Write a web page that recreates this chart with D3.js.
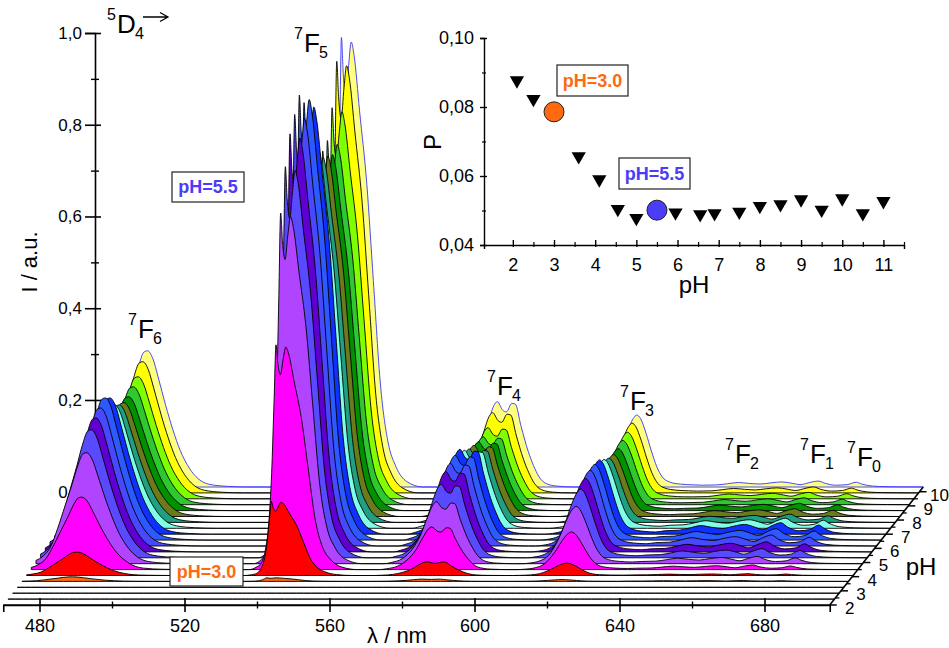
<!DOCTYPE html>
<html>
<head>
<meta charset="utf-8">
<script src="https://cdn.jsdelivr.net/npm/d3@7"></script>
<style>
  body { margin: 0; background: #fff; }
  text { font-family: "Liberation Sans", Arial, sans-serif; fill: #000; }
</style>
</head>
<body>
<svg id="chart" width="949" height="648"></svg>
<script>
// ---- data ----
// one spectrum per row, front row first
var rowColors = ['#ffffff', '#ffffff', '#ffffff', '#ffffff', '#ff6a10', '#ff0000', '#ff00ff',
    '#b044ff', '#5a4aff', '#6000d0', '#4848ff', '#2d5aff', '#1030ff', '#80ffe8', '#20a080',
    '#6b7b1b', '#009000', '#30c830', '#80ff00', '#ffff00', '#ffff80'];

// band shapes (wavelength, band index, intensity relative to the band maximum)
var shapeWl = [470, 472, 474, 476, 478, 480, 481.5, 483, 484, 485.5, 487, 489, 491, 493, 495.5, 498, 501, 506, 512,
    530, 532, 533.5, 534.5, 535.5, 536.3, 537, 537.5, 538, 538.7, 539.5, 540.2, 541, 542.5, 544.5, 546.3, 548.3, 550.3, 552.5, 555.5, 560,
    566, 568, 571, 574, 576, 578, 579.5, 580.5, 582, 583, 584.5, 585.5, 587, 589, 590.5, 592, 594, 597, 602,
    604, 606, 609, 611.5, 613.5, 615, 616.5, 618, 619, 620, 621.5, 623, 624.5, 626, 628, 631, 634.5,
    637, 641, 644, 647, 650, 653, 656, 659, 662, 664, 667, 669, 671, 674, 677, 679.5, 681, 684, 688, 692, 698];
var shapeBand = [0, 0, 0, 0, 0, 0, 0, 0, 0, 0, 0, 0, 0, 0, 0, 0, 0, 0, 0,
    1, 1, 1, 1, 1, 1, 1, 1, 1, 1, 1, 1, 1, 1, 1, 1, 1, 1, 1, 1, 1,
    2, 2, 2, 2, 2, 2, 2, 2, 2, 2, 2, 2, 2, 2, 2, 2, 2, 2, 2,
    3, 3, 3, 3, 3, 3, 3, 3, 3, 3, 3, 3, 3, 3, 3, 3, 3,
    4, 4, 4, 4, 4, 4, 4, 4, 4, 4, 4, 4, 4, 4, 4, 4, 4, 4, 4, 4, 4];
var shapeRel = [0.03, 0.07, 0.15, 0.32, 0.52, 0.72, 0.88, 0.99, 1, 0.94, 0.8, 0.6, 0.42, 0.27, 0.14, 0.06, 0.02, 0.005, 0,
    0, 0.01, 0.03, 0.08, 0.2, 0.42, 0.75, 0.98, 0.9, 0.85, 0.92, 0.97, 0.94, 0.82, 0.66, 0.45, 0.22, 0.1, 0.045, 0.012, 0,
    0, 0.02, 0.08, 0.25, 0.45, 0.75, 0.95, 1, 0.9, 0.88, 0.98, 0.97, 0.72, 0.42, 0.25, 0.12, 0.04, 0.01, 0,
    0, 0.01, 0.05, 0.15, 0.35, 0.55, 0.78, 0.95, 1, 0.95, 0.75, 0.5, 0.28, 0.14, 0.07, 0.04, 0.03,
    0.3, 0.35, 0.55, 0.75, 0.6, 0.5, 0.7, 0.85, 0.6, 0.4, 0.8, 1, 0.6, 0.3, 0.4, 0.8, 0.5, 0.15, 0.05, 0.02, 0];

// band maxima per row (7F6, 7F5, 7F4, 7F3, 7F2..7F0)
var ampF6 = [0, 0, 0, 0, 0.01, 0.051, 0.158, 0.242, 0.279, 0.292, 0.301, 0.31, 0.297, 0.269, 0.256, 0.248, 0.248, 0.257, 0.266, 0.286, 0.297];
var ampF5 = [0, 0, 0, 0, 0.008, 0.165, 0.5, 0.78, 0.87, 0.93, 0.96, 0.99, 0.96, 0.85, 0.82, 0.81, 0.8, 0.81, 0.87, 0.96, 1.0];
var ampF4 = [0, 0, 0, 0, 0.005, 0.03, 0.093, 0.135, 0.16, 0.175, 0.18, 0.185, 0.185, 0.17, 0.16, 0.155, 0.15, 0.148, 0.155, 0.175, 0.186];
var ampF3 = [0, 0, 0, 0, 0.004, 0.027, 0.082, 0.125, 0.15, 0.16, 0.165, 0.165, 0.162, 0.15, 0.14, 0.135, 0.135, 0.14, 0.145, 0.152, 0.157];
var ampF2 = [0, 0, 0, 0, 0.002, 0.004, 0.01, 0.016, 0.02, 0.022, 0.024, 0.025, 0.025, 0.022, 0.018, 0.017, 0.016, 0.015, 0.014, 0.013, 0.013];

var lambdaTicks = [480, 520, 560, 600, 640, 680];
var lambdaMinor = [500, 540, 580, 620, 660];
var intensityTicks = [0, 0.2, 0.4, 0.6, 0.8, 1.0];
var intensityMinor = [0.1, 0.3, 0.5, 0.7, 0.9];
var depthTicks = [2, 3, 4, 5, 6, 7, 8, 9, 10];
var depthMinor = [2.5, 3.5, 4.5, 5.5, 6.5, 7.5, 8.5, 9.5];

// inset: P against pH
var insetPh = [2.1, 2.5, 3.6, 4.1, 4.55, 5.0, 5.95, 6.55, 6.9, 7.5, 8.0, 8.5, 9.0, 9.5, 10.0, 10.5, 11.0];
var insetP = [0.0877, 0.0823, 0.0657, 0.059, 0.0504, 0.0478, 0.0494, 0.0489, 0.0492, 0.0496, 0.0513, 0.0518, 0.0532, 0.0502, 0.0535, 0.0492, 0.0527];
var markPh = [3.0, 5.5];
var markP = [0.0786, 0.0501];
var markColors = ['#ff6a10', '#4b3cf5'];
var insetXTicks = [2, 3, 4, 5, 6, 7, 8, 9, 10, 11];
var insetXMinor = [2.5, 3.5, 4.5, 5.5, 6.5, 7.5, 8.5, 9.5, 10.5, 11.5];
var insetYTicks = [0.04, 0.06, 0.08, 0.10];
var insetYMinor = [0.05, 0.07, 0.09];

// ---- drawing ----
var svg = d3.select('#chart');
var bandAmps = [ampF6, ampF5, ampF4, ampF3, ampF2];
var frontY = 605, backDx = 93.5, backDy = 118;
var comma = function (fmt) { return function (d) { return d3.format(fmt)(d).replace('.', ','); }; };

var xScale = d3.scaleLinear().domain([470, 698]).range([3.25, 829.75]);
var rowScale = d3.scalePoint().domain(d3.range(rowColors.length)).range([0, 1]);
var phScale = d3.scaleLinear().domain([2, 10]).range([0, 0.96]);
var hScale = d3.scaleLinear().domain([0, 1]).range([0, 458.75]);
var yAxisScale = d3.scaleLinear().domain([0, 1]).range([frontY - 0.96 * backDy, 33]);

//intensity axis, standing at the back left corner
var yAxisX = 95;
var yAxis = svg.append('g').attr('transform', 'translate(' + yAxisX + ',0)')
    .call(d3.axisLeft(yAxisScale).tickValues(intensityTicks).tickSizeOuter(0)
        .tickSize(10).tickPadding(3).tickFormat(comma('.1f')));
yAxis.selectAll('.tick line').attr('x2', -10).attr('x1', 6).attr('stroke-width', 1.6);
yAxis.selectAll('text').attr('font-size', 17).attr('font-family', '"Liberation Sans", Arial, sans-serif');
yAxis.select('.domain').attr('stroke-width', 1.6);
var yMinor = svg.append('g').attr('transform', 'translate(' + yAxisX + ',0)')
    .call(d3.axisLeft(yAxisScale).tickValues(intensityMinor).tickSize(4).tickFormat(''));
yMinor.select('.domain').remove();
yMinor.selectAll('.tick line').attr('x1', 4).attr('stroke-width', 1.4);

svg.append('text').attr('transform', 'translate(37,262) rotate(-90)')
    .attr('text-anchor', 'middle').attr('font-size', 22).text('I / a.u.');

//spectra, back row first
var area = d3.area().curve(d3.curveMonotoneX)
    .x(function (d) { return d.x; }).y0(function (d) { return d.b; }).y1(function (d) { return d.y; });
d3.range(rowColors.length).reverse().forEach(function (i) {
    var t = rowScale(i);
    var dx = t * backDx, by = frontY - t * backDy;
    var pts = shapeWl.map(function (w, k) {
        return { x: xScale(w) + dx, b: by, y: by - hScale(bandAmps[shapeBand[k]][i] * shapeRel[k]) };
    });
    svg.append('path').attr('d', area(pts))
        .attr('fill', rowColors[i])
        .attr('stroke', i === rowColors.length - 1 ? '#3535ff' : '#000')
        .attr('stroke-width', 0.9)
        .attr('stroke-linejoin', 'round');
});

//wavelength axis
var xAxis = svg.append('g').attr('transform', 'translate(0,' + frontY + ')')
    .call(d3.axisBottom(xScale).tickValues(lambdaTicks).tickSizeOuter(0).tickSize(7).tickPadding(7));
xAxis.selectAll('.tick line').attr('y1', -7).attr('stroke-width', 1.6);
xAxis.selectAll('text').attr('font-size', 18).attr('font-family', '"Liberation Sans", Arial, sans-serif');
xAxis.select('.domain').attr('stroke-width', 1.6);
var xMinor = svg.append('g').attr('transform', 'translate(0,' + frontY + ')')
    .call(d3.axisBottom(xScale).tickValues(lambdaMinor).tickSize(3.5).tickFormat(''));
xMinor.select('.domain').remove();
xMinor.selectAll('.tick line').attr('y1', -3.5).attr('stroke-width', 1.4);
svg.append('text').attr('x', 397).attr('y', 643).attr('text-anchor', 'middle')
    .attr('font-size', 22).text('λ / nm');

//pH depth axis
var x0 = xScale(698);
var depthPos = function (ph) {
    var t = phScale(ph);
    return [x0 + t * backDx, frontY - t * backDy];
};
svg.append('line').attr('x1', x0).attr('y1', frontY)
    .attr('x2', x0 + backDx).attr('y2', frontY - backDy)
    .attr('stroke', '#000').attr('stroke-width', 1.6);
depthTicks.forEach(function (ph) {
    var p = depthPos(ph);
    svg.append('line').attr('x1', p[0]).attr('y1', p[1]).attr('x2', p[0] + 7).attr('y2', p[1])
        .attr('stroke', '#000').attr('stroke-width', 1.5);
    svg.append('text').attr('x', p[0] + 20).attr('y', p[1] + 3).attr('dy', '0.35em')
        .attr('text-anchor', 'middle').attr('font-size', 17).text(ph);
});
depthMinor.forEach(function (ph) {
    var p = depthPos(ph);
    svg.append('line').attr('x1', p[0]).attr('y1', p[1]).attr('x2', p[0] + 4).attr('y2', p[1])
        .attr('stroke', '#000').attr('stroke-width', 1.3);
});
svg.append('text').attr('x', 921).attr('y', 575).attr('text-anchor', 'middle')
    .attr('font-size', 24).text('pH');

//term labels
function termLabel(x, y, sup, main, sub) {
    svg.append('text').attr('x', x - 10).attr('y', y - 13).attr('font-size', 16).text(sup);
    svg.append('text').attr('x', x).attr('y', y).attr('font-size', 26).text(main);
    svg.append('text').attr('x', x + (main === 'D' ? 18 : 15)).attr('y', y + 6).attr('font-size', 16).text(sub);
}
termLabel(117, 33, '5', 'D', '4');
svg.append('path').attr('d', 'M143,17H168M160,12.5L168,17L160,21.5')
    .attr('fill', 'none').attr('stroke', '#000').attr('stroke-width', 1.3);
termLabel(138, 338, '7', 'F', '6');
termLabel(304, 52, '7', 'F', '5');
termLabel(497, 395, '7', 'F', '4');
termLabel(630, 410, '7', 'F', '3');
termLabel(735, 463, '7', 'F', '2');
termLabel(810, 463, '7', 'F', '1');
termLabel(857, 466, '7', 'F', '0');

//boxed notes
function note(x, y, w, h, txt, color) {
    svg.append('rect').attr('x', x).attr('y', y).attr('width', w).attr('height', h)
        .attr('fill', '#fff').attr('stroke', '#222').attr('stroke-width', 1.2);
    svg.append('text').attr('x', x + w / 2).attr('y', y + h / 2).attr('dy', '0.36em')
        .attr('text-anchor', 'middle').attr('font-size', 18).attr('font-weight', 'bold')
        .style('fill', color).text(txt);
}
note(172, 172, 72, 30, 'pH=5.5', markColors[1]);
note(170, 557, 73, 29, 'pH=3.0', markColors[0]);

//inset
var ix = d3.scaleLinear().domain([1.3, 11.5]).range([484, 904]);
var iy = d3.scaleLinear().domain([0.04, 0.10]).range([245, 38]);
var inX = svg.append('g').attr('transform', 'translate(0,' + iy(0.04) + ')')
    .call(d3.axisBottom(ix).tickValues(insetXTicks).tickSizeOuter(0).tickSize(4).tickPadding(9));
inX.selectAll('.tick line').attr('y1', -5).attr('y2', 2).attr('stroke-width', 1.4);
inX.selectAll('text').attr('font-size', 18).attr('font-family', '"Liberation Sans", Arial, sans-serif');
inX.select('.domain').attr('stroke-width', 1.4);
var inXm = svg.append('g').attr('transform', 'translate(0,' + iy(0.04) + ')')
    .call(d3.axisBottom(ix).tickValues(insetXMinor).tickSize(2).tickFormat(''));
inXm.select('.domain').remove();
inXm.selectAll('.tick line').attr('y1', -3).attr('stroke-width', 1.2);
var inY = svg.append('g').attr('transform', 'translate(' + ix(1.3) + ',0)')
    .call(d3.axisLeft(iy).tickValues(insetYTicks).tickSizeOuter(0).tickSize(4).tickPadding(6)
        .tickFormat(comma('.2f')));
inY.selectAll('.tick line').attr('x1', 3).attr('stroke-width', 1.4);
inY.selectAll('text').attr('font-size', 18).attr('font-family', '"Liberation Sans", Arial, sans-serif');
inY.select('.domain').attr('stroke-width', 1.4);
var inYm = svg.append('g').attr('transform', 'translate(' + ix(1.3) + ',0)')
    .call(d3.axisLeft(iy).tickValues(insetYMinor).tickSize(2).tickFormat(''));
inYm.select('.domain').remove();
inYm.selectAll('.tick line').attr('x1', 2).attr('stroke-width', 1.2);
svg.append('text').attr('x', 694).attr('y', 293).attr('text-anchor', 'middle')
    .attr('font-size', 24).text('pH');
svg.append('text').attr('transform', 'translate(441,142) rotate(-90)')
    .attr('text-anchor', 'middle').attr('font-size', 24).text('P');

var tri = d3.symbol().type(d3.symbolTriangle).size(88);
svg.append('g').selectAll('path').data(insetPh).enter().append('path')
    .attr('d', tri)
    .attr('transform', function (d, k) { return 'translate(' + ix(d) + ',' + iy(insetP[k]) + ') rotate(180)'; })
    .attr('fill', '#000');
svg.append('g').selectAll('circle').data(markPh).enter().append('circle')
    .attr('cx', function (d) { return ix(d); })
    .attr('cy', function (d, k) { return iy(markP[k]); })
    .attr('r', 10)
    .attr('fill', function (d, k) { return markColors[k]; })
    .attr('stroke', '#222').attr('stroke-width', 1);
note(557, 65, 71, 31, 'pH=3.0', markColors[0]);
note(619, 158, 71, 31, 'pH=5.5', markColors[1]);
</script>
</body>
</html>
